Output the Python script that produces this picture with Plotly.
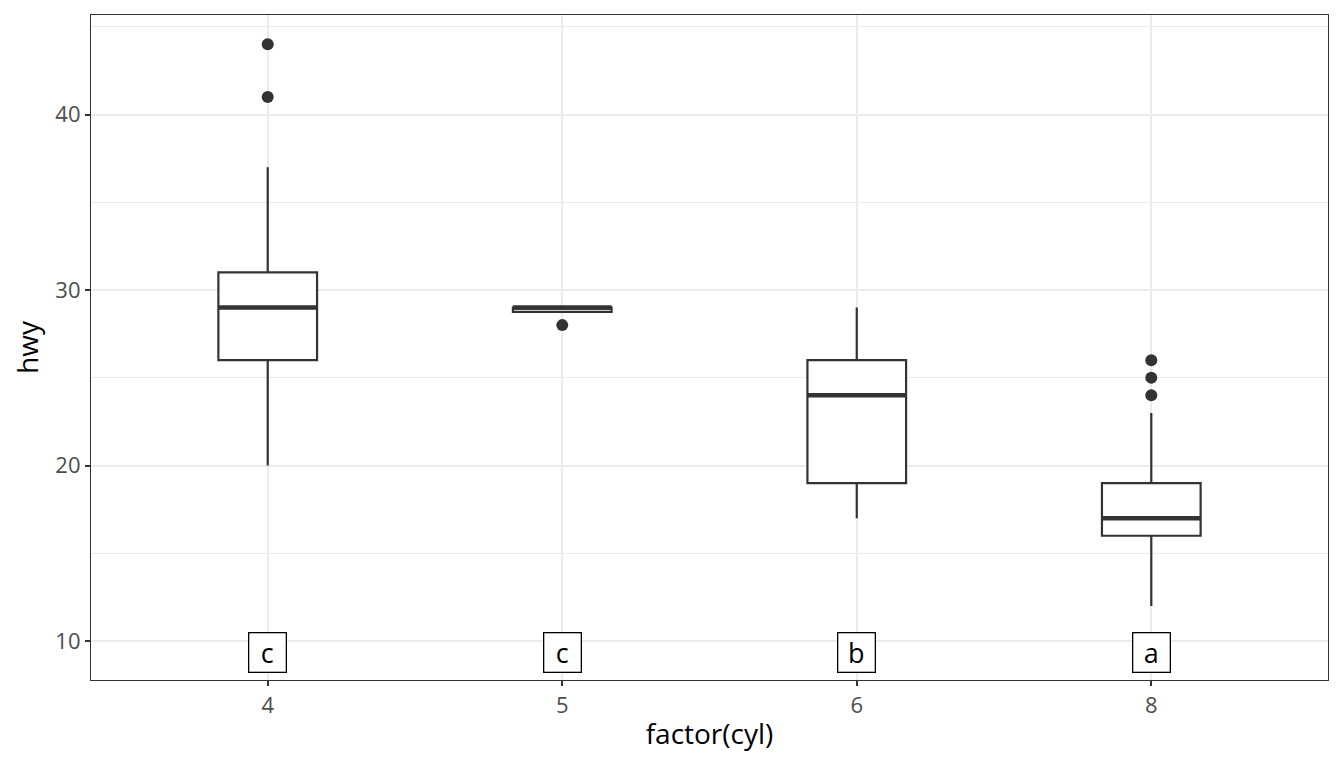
import plotly.graph_objects as go

# box statistics of hwy by number of cylinders
cyl = ["4", "5", "6", "8"]
q1 = [26, 28.75, 19, 16]
median = [29, 29, 24, 17]
q3 = [31, 29, 26, 19]
lower = [20, 29, 17, 12]
upper = [37, 29, 29, 23]

# outliers
out_x = ["4", "4", "5", "8", "8", "8"]
out_y = [44, 41, 28, 26, 25, 24]

# compact letter display
letters = ["c", "c", "b", "a"]
letter_y = 9.37

dark = "#333333"
fig = go.Figure()

for i, c in enumerate(cyl):
    fig.add_trace(go.Box(
        x=[c], q1=[q1[i]], median=[median[i]], q3=[q3[i]],
        lowerfence=[lower[i]], upperfence=[upper[i]],
        width=0.335, boxpoints=False, whiskerwidth=0,
        fillcolor="white", line=dict(color=dark, width=2.2),
        showlegend=False, hoverinfo="skip",
    ))
    # thicker median bar drawn as flat box
    fig.add_trace(go.Box(
        x=[c], q1=[median[i]], median=[median[i]], q3=[median[i]],
        lowerfence=[median[i]], upperfence=[median[i]],
        width=0.335, boxpoints=False, whiskerwidth=0,
        fillcolor=dark, line=dict(color=dark, width=4.5),
        showlegend=False, hoverinfo="skip",
    ))

fig.add_trace(go.Scatter(
    x=out_x, y=out_y, mode="markers",
    marker=dict(color=dark, size=12),
    showlegend=False,
))

# category axis: annotations placed by category index
for i, t in enumerate(letters):
    fig.add_annotation(
        x=i, y=letter_y, text=t, showarrow=False,
        font=dict(family="Open Sans", size=27, color="black"),
        width=32, height=34,
        bgcolor="white", bordercolor="black", borderwidth=1.3, borderpad=2,
    )

axis_common = dict(
    showline=True, linecolor=dark, linewidth=1.2, mirror=True,
    ticks="outside", ticklen=5, tickcolor=dark, tickwidth=2,
    tickfont=dict(family="Open Sans", size=22, color="#4D4D4D"),
    gridcolor="#EBEBEB", gridwidth=2, zeroline=False,
    title_font=dict(family="Open Sans", size=28, color="black"),
)

fig.update_xaxes(
    type="category", categoryorder="array", categoryarray=cyl,
    range=[-0.6, 3.6], title_text="factor(cyl)", title_standoff=6,
    **axis_common,
)
fig.update_yaxes(
    range=[7.78, 45.67], tick0=10, dtick=10, title_text="hwy",
    title_standoff=12,
    minor=dict(dtick=5, tick0=5, showgrid=True, gridcolor="#EBEBEB",
               gridwidth=1.2, ticks=""),
    **axis_common,
)

fig.update_layout(
    width=1336, height=760, boxmode="overlay",
    plot_bgcolor="white", paper_bgcolor="white",
    margin=dict(l=83, r=16, t=7, b=88),
    font=dict(family="Open Sans"),
)

fig.write_html("out.html")
